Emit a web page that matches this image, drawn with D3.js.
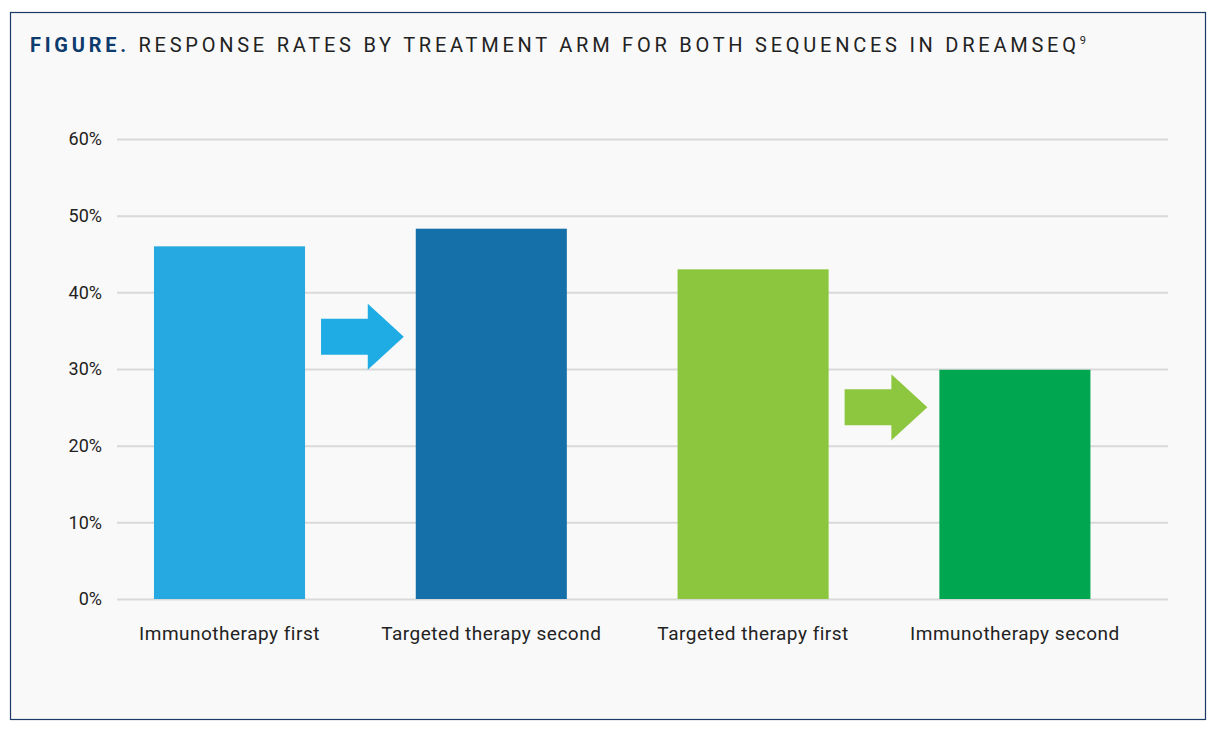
<!DOCTYPE html>
<html>
<head>
<meta charset="utf-8">
<script src="https://cdnjs.cloudflare.com/ajax/libs/d3/7.8.5/d3.min.js"></script>
<style>
  body { margin: 0; background: #ffffff; }
  svg { display: block; }
</style>
</head>
<body>
<svg id="chart"></svg>
<script>
var categories = ["Immunotherapy first", "Targeted therapy second", "Targeted therapy first", "Immunotherapy second"];
var values = [46, 48.3, 43, 29.9];
var barColors = ["#26a9e0", "#156fa8", "#8cc63f", "#00a650"];
var yTicks = [0, 10, 20, 30, 40, 50, 60];
// arrows between the two arms of each sequence: [from index, to index, level in %]
var arrows = [[0, 1, 34.2, "#1fabe3"], [2, 3, 25, "#8dc63f"]];

var width = 1220, height = 736;

var svg = d3.select("#chart")
    .attr("width", width)
    .attr("height", height);

// frame
svg.append("rect")
    .attr("x", 10.5).attr("y", 12.5)
    .attr("width", 1195).attr("height", 707)
    .attr("fill", "#f9f9f9")
    .attr("stroke", "#1b3b66")
    .attr("stroke-width", 1.2);

// title
var title = svg.append("text")
    .attr("x", 30).attr("y", 52)
    .attr("font-family", "Roboto, sans-serif")
    .attr("font-size", 20)
    .attr("letter-spacing", 3.75);
title.append("tspan")
    .attr("font-weight", "bold")
    .attr("fill", "#0d3b6e")
    .text("FIGURE.");
title.append("tspan")
    .attr("fill", "#222")
    .text(" RESPONSE RATES BY TREATMENT ARM FOR BOTH SEQUENCES IN DREAMSEQ");
title.append("tspan")
    .attr("fill", "#222")
    .attr("font-size", 11)
    .attr("dy", -8)
    .text("9");

var x = d3.scaleBand()
    .domain(categories)
    .range([98.6, 1145.8])
    .paddingInner(0.423)
    .paddingOuter(0.2115);

var y = d3.scaleLinear()
    .domain([0, 60])
    .range([599, 139]);

// gridlines
var yAxis = d3.axisLeft(y)
    .tickValues(yTicks)
    .tickSize(-(1168 - 117))
    .tickPadding(15)
    .tickFormat(function(d) { return d + "%"; });

var gy = svg.append("g")
    .attr("transform", "translate(117,0)")
    .call(yAxis);
gy.select(".domain").remove();
gy.selectAll(".tick line")
    .attr("stroke", "#d9d9d9")
    .attr("stroke-width", 2);
gy.selectAll(".tick text")
    .attr("fill", "#222")
    .attr("font-family", "Roboto, sans-serif")
    .attr("font-size", 18);

// bars
svg.selectAll(".bar")
    .data(values)
    .enter()
    .append("rect")
    .attr("class", "bar")
    .attr("x", function(d, i) { return x(categories[i]); })
    .attr("y", function(d) { return y(d); })
    .attr("width", x.bandwidth())
    .attr("height", function(d) { return y(0) - y(d); })
    .attr("fill", function(d, i) { return barColors[i]; });

// category labels
var xAxis = d3.axisBottom(x).tickSize(0).tickPadding(28);
var gx = svg.append("g")
    .attr("transform", "translate(0," + y(0) + ")")
    .call(xAxis);
gx.select(".domain").remove();
gx.selectAll(".tick text")
    .attr("fill", "#222")
    .attr("font-family", "Roboto, sans-serif")
    .attr("font-size", 19)
    .attr("letter-spacing", 0.5);

// arrows
svg.selectAll(".arrow")
    .data(arrows)
    .enter()
    .append("path")
    .attr("class", "arrow")
    .attr("fill", function(d) { return d[3]; })
    .attr("d", function(d) {
        var x0 = x(categories[d[0]]) + x.bandwidth() + 16,
            x1 = x(categories[d[1]]) - 12,
            cy = y(d[2]),
            xm = x1 - 36;
        return "M" + x0 + "," + (cy - 18) +
               "L" + xm + "," + (cy - 18) +
               "L" + xm + "," + (cy - 33) +
               "L" + x1 + "," + cy +
               "L" + xm + "," + (cy + 33) +
               "L" + xm + "," + (cy + 18) +
               "L" + x0 + "," + (cy + 18) + "Z";
    });
</script>
</body>
</html>
